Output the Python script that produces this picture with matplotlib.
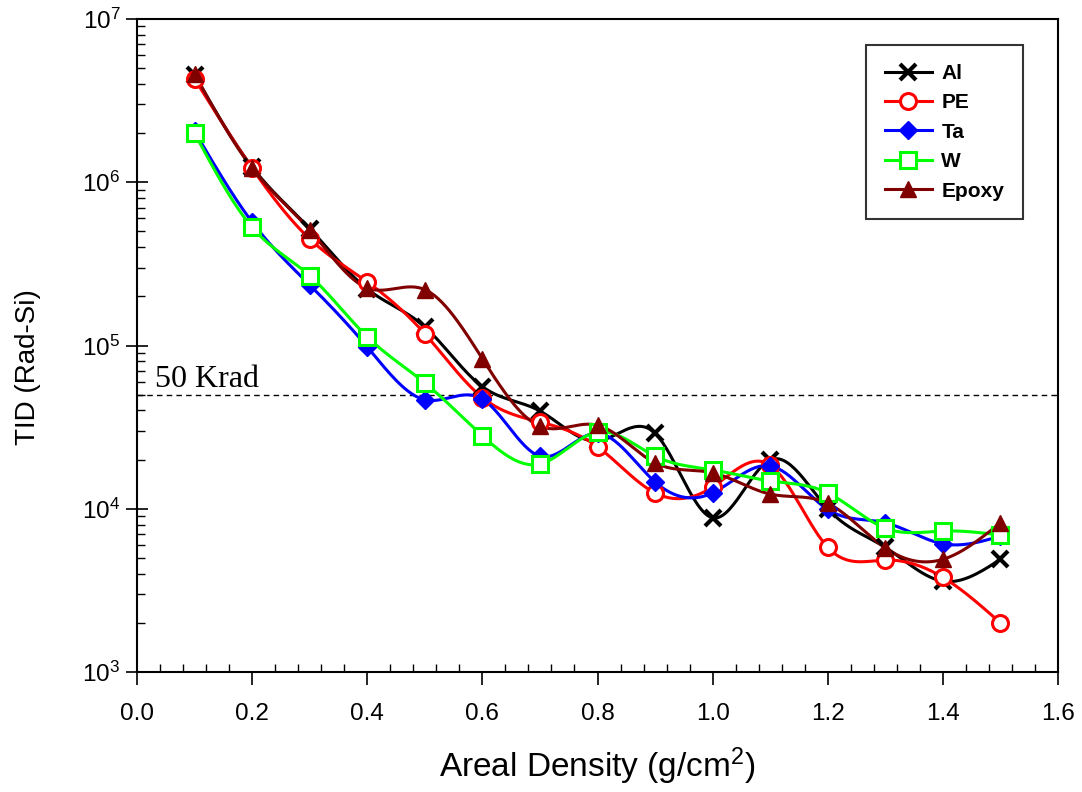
import numpy as np
import matplotlib
matplotlib.use("Agg")
import matplotlib.pyplot as plt
from matplotlib.lines import Line2D
from matplotlib.ticker import LogLocator, MultipleLocator

plt.rcParams['font.family'] = ['Liberation Sans', 'DejaVu Sans']
plt.rcParams['mathtext.fontset'] = 'custom'
plt.rcParams['mathtext.rm'] = 'Liberation Sans'
plt.rcParams['mathtext.it'] = 'Liberation Sans:italic'
plt.rcParams['mathtext.bf'] = 'Liberation Sans:bold'

density = [0.1, 0.2, 0.3, 0.4, 0.5, 0.6, 0.7, 0.8, 0.9, 1.0, 1.1, 1.2, 1.3, 1.4, 1.5]
tid_al = [4.55e6, 1.24e6, 5.2e5, 2.22e5, 1.3e5, 5.6e4, 3.97e4, 2.6e4, 2.9e4, 8.8e3, 1.99e4, 1.0e4, 5.8e3, 3.6e3, 4.9e3]
tid_pe = [4.3e6, 1.22e6, 4.5e5, 2.45e5, 1.18e5, 4.8e4, 3.4e4, 2.4e4, 1.25e4, 1.36e4, 1.85e4, 5.8e3, 4.85e3, 3.8e3, 2.0e3]
tid_ta = [2.05e6, 5.7e5, 2.35e5, 9.8e4, 4.65e4, 4.7e4, 2.1e4, 2.9e4, 1.46e4, 1.25e4, 1.83e4, 9.9e3, 8.2e3, 6.1e3, 6.8e3]
tid_w = [2.0e6, 5.3e5, 2.68e5, 1.13e5, 5.9e4, 2.8e4, 1.88e4, 2.95e4, 2.1e4, 1.73e4, 1.48e4, 1.25e4, 7.6e3, 7.3e3, 6.9e3]
tid_epoxy = [4.6e6, 1.22e6, 5.1e5, 2.25e5, 2.2e5, 8.3e4, 3.2e4, 3.25e4, 1.91e4, 1.66e4, 1.23e4, 1.08e4, 5.75e3, 4.9e3, 8.2e3]
threshold = 5e4
threshold_label = "50 Krad"

series = [
    ("Al", tid_al, dict(color='black', marker='x', ms=12, mew=3.0, mfc='black', mec='black')),
    ("PE", tid_pe, dict(color='#ff0000', marker='o', ms=11.5, mew=2.2, mfc='white', mec='#ff0000')),
    ("Ta", tid_ta, dict(color='#0000ff', marker='D', ms=9, mew=1, mfc='#0000ff', mec='#0000ff')),
    ("W", tid_w, dict(color='#00ff00', marker='s', ms=11, mew=2.2, mfc='white', mec='#00ff00')),
    ("Epoxy", tid_epoxy, dict(color='#800000', marker='^', ms=11, mew=1, mfc='#800000', mec='#800000')),
]


def natural_spline(x, y, per=30):
    x = np.asarray(x, float)
    y = np.asarray(y, float)
    n = len(x)
    h = np.diff(x)
    A = np.zeros((n, n))
    b = np.zeros(n)
    A[0, 0] = 1
    A[-1, -1] = 1
    for i in range(1, n - 1):
        A[i, i - 1] = h[i - 1]
        A[i, i] = 2 * (h[i - 1] + h[i])
        A[i, i + 1] = h[i]
        b[i] = 6 * ((y[i + 1] - y[i]) / h[i] - (y[i] - y[i - 1]) / h[i - 1])
    M = np.linalg.solve(A, b)
    xs_all, ys_all = [], []
    for i in range(n - 1):
        t = np.linspace(x[i], x[i + 1], per, endpoint=(i == n - 2))
        a = x[i + 1] - t
        c = t - x[i]
        s = (M[i] * a ** 3 + M[i + 1] * c ** 3) / (6 * h[i]) \
            + (y[i] / h[i] - M[i] * h[i] / 6) * a \
            + (y[i + 1] / h[i] - M[i + 1] * h[i] / 6) * c
        xs_all.append(t)
        ys_all.append(s)
    return np.concatenate(xs_all), np.concatenate(ys_all)


fig = plt.figure(figsize=(10.82, 7.92), dpi=100)
ax = fig.add_axes([137 / 1082, 1 - 672 / 792, (1058 - 137) / 1082, (672 - 19) / 792])

handles = []
for name, vals, st in series:
    xs, ys = natural_spline(density, np.log10(vals))
    ax.plot(xs, 10 ** ys, color=st['color'], lw=2.2, solid_capstyle='round', zorder=2)
    ax.plot(density, vals, linestyle='none', marker=st['marker'], ms=st['ms'],
            mew=st['mew'], mfc=st['mfc'], mec=st['mec'], zorder=3)
    handles.append(Line2D([], [], color=st['color'], lw=2.2, marker=st['marker'],
                          ms=st['ms'], mew=st['mew'], mfc=st['mfc'], mec=st['mec'], label=name))

ax.axhline(threshold, color='black', lw=1.0, ls=(0, (4, 3)), zorder=1)
ax.text(0.031, threshold * 10 ** (8 / 163.25), threshold_label, family='Liberation Serif',
        fontsize=23, ha='left', va='baseline')

ax.set_yscale('log')
ax.set_xlim(0, 1.6)
ax.set_ylim(1e3, 1e7)
ax.xaxis.set_major_locator(MultipleLocator(0.2))
ax.xaxis.set_minor_locator(MultipleLocator(0.04))
ax.xaxis.set_major_formatter(matplotlib.ticker.FormatStrFormatter('%.1f'))
ax.yaxis.set_major_locator(LogLocator(base=10, numticks=10))
ax.yaxis.set_minor_locator(LogLocator(base=10, subs=np.arange(2, 10), numticks=20))
ax.yaxis.set_minor_formatter(matplotlib.ticker.NullFormatter())

ax.tick_params(axis='both', which='major', labelsize=17.5, width=1.2)
ax.tick_params(axis='y', which='major', length=16, direction='inout', pad=4)
ax.tick_params(axis='y', which='minor', length=6, width=1.0, direction='in')
ax.tick_params(axis='x', which='major', length=9, direction='out', pad=13)
ax.tick_params(axis='x', which='minor', length=6, width=1.0, direction='in')
for sp in ax.spines.values():
    sp.set_linewidth(1.5)

ax.set_xlabel('Areal Density (g/cm$^2$)', fontsize=24, labelpad=15)
ax.set_ylabel('TID (Rad-Si)', fontsize=20, labelpad=27)
ax.yaxis.set_label_coords(-0.1045, 0.467)

leg = ax.legend(handles=handles, loc='upper right', bbox_to_anchor=(0.962, 0.960),
                borderaxespad=0,
                prop={'weight': 'bold', 'size': 15}, frameon=True, fancybox=False,
                edgecolor='black', handlelength=2.3, handletextpad=0.43, labelspacing=0.5,
                borderpad=0.9)
leg.get_frame().set_linewidth(1.5)

fig.savefig('out.png', dpi=100)
